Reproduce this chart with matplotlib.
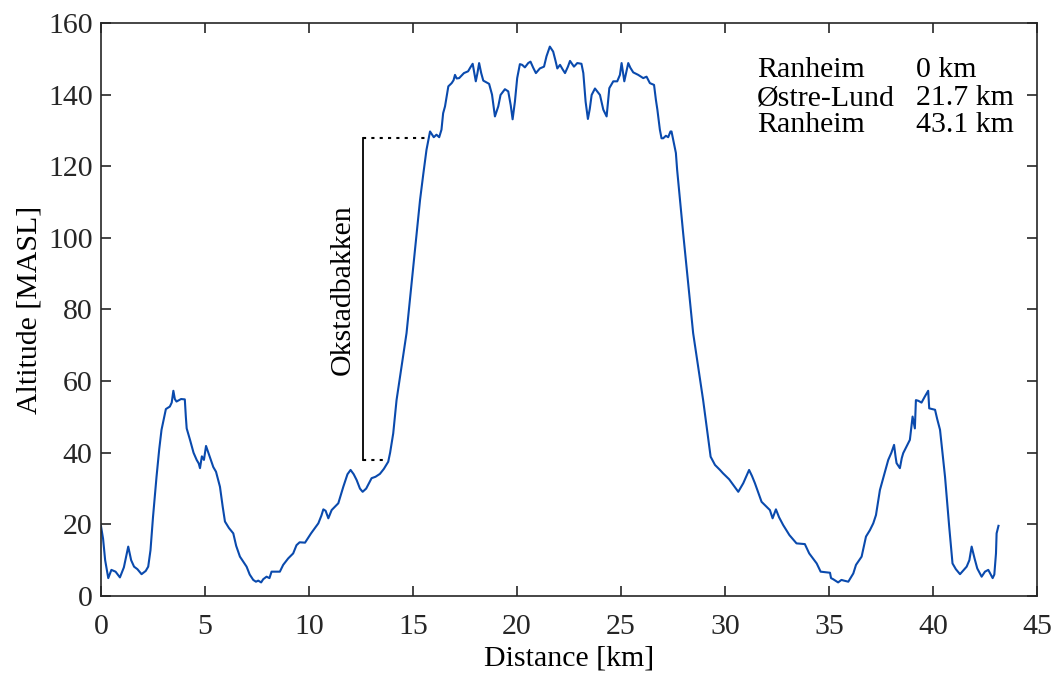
import matplotlib.pyplot as plt

# Elevation profile
distance_km = [
    0.0, 0.1, 0.2, 0.35, 0.5, 0.7, 0.91, 1.1, 1.31, 1.45, 1.59, 1.75, 1.95, 2.15,
    2.27, 2.38, 2.5, 2.67, 2.8, 2.91, 3.12, 3.31, 3.4, 3.48, 3.55, 3.63, 3.85, 4.03,
    4.08, 4.12, 4.28, 4.45, 4.6, 4.7, 4.76, 4.85, 4.95, 5.05, 5.24, 5.4, 5.53, 5.72,
    5.85, 5.96, 6.15, 6.36, 6.5, 6.68, 7.0, 7.15, 7.32, 7.45, 7.56, 7.7, 7.8, 7.96,
    8.1, 8.2, 8.6, 8.76, 9.0, 9.24, 9.4, 9.55, 9.81, 10.1, 10.45, 10.6, 10.69, 10.8,
    10.93, 11.09, 11.41, 11.65, 11.85, 12.0, 12.15, 12.29, 12.45, 12.58, 12.75, 13.01,
    13.2, 13.41, 13.6, 13.81, 13.9, 14.05, 14.21, 14.45, 14.69, 15.0, 15.34, 15.5,
    15.65, 15.82, 15.9, 16.0, 16.13, 16.26, 16.37, 16.45, 16.54, 16.7, 16.86, 16.95,
    17.02, 17.1, 17.22, 17.45, 17.65, 17.75, 17.87, 17.95, 18.02, 18.1, 18.18, 18.28,
    18.38, 18.5, 18.66, 18.8, 18.94, 19.1, 19.21, 19.42, 19.58, 19.7, 19.79, 19.9,
    20.01, 20.14, 20.25, 20.38, 20.54, 20.65, 20.78, 20.91, 21.1, 21.3, 21.42, 21.58,
    21.74, 21.85, 21.94, 22.07, 22.2, 22.31, 22.45, 22.55, 22.74, 22.9, 23.1, 23.19,
    23.3, 23.41, 23.5, 23.59, 23.75, 23.99, 24.15, 24.31, 24.44, 24.63, 24.82, 24.95,
    25.03, 25.1, 25.16, 25.35, 25.45, 25.59, 25.83, 26.07, 26.23, 26.39, 26.59, 26.68,
    26.75, 26.87, 26.95, 27.03, 27.16, 27.27, 27.38, 27.43, 27.64, 27.7, 27.99, 28.47,
    28.95, 29.31, 29.52, 29.76, 29.9, 30.2, 30.4, 30.64, 30.88, 31.16, 31.3, 31.44,
    31.76, 32.16, 32.29, 32.45, 32.6, 32.8, 33.1, 33.44, 33.84, 34.05, 34.41, 34.6,
    35.05, 35.1, 35.2, 35.44, 35.6, 35.72, 35.93, 36.17, 36.3, 36.57, 36.78, 36.97,
    37.13, 37.26, 37.45, 37.69, 37.85, 38.0, 38.13, 38.2, 38.25, 38.41, 38.5, 38.57,
    38.75, 38.89, 39.02, 39.13, 39.18, 39.3, 39.45, 39.61, 39.77, 39.82, 40.1, 40.2,
    40.34, 40.58, 40.78, 40.94, 41.1, 41.3, 41.62, 41.75, 41.86, 42.0, 42.13, 42.34,
    42.5, 42.66, 42.87, 42.95, 43.03, 43.06, 43.15,
]
altitude_m = [
    19.5, 16, 10, 5, 7.3, 6.8, 5.2, 8, 13.8, 10, 8.2, 7.5, 6.1, 7,
    8.2, 12.8, 22, 33.3, 41, 46.4, 52.2, 52.9, 54, 57.3, 55, 54.3, 55, 54.9,
    50, 46.8, 43.6, 40, 38, 37, 35.7, 39, 38, 41.9, 38.7, 36, 34.7, 30.5,
    25, 20.8, 19, 17.5, 14, 11, 8.2, 6, 4.5, 4, 4.3, 3.8, 4.7, 5.4,
    5, 6.8, 6.8, 8.7, 10.5, 11.9, 14.2, 15, 14.9, 17.5, 20.3, 22.5, 24.2, 23.8,
    21.7, 24, 25.9, 30.5, 34, 35.2, 34, 32.4, 30, 29.1, 30, 32.9,
    33.3, 34.1, 35.5, 37.5, 40, 45.4, 54.7, 64, 73.4, 91, 110.6, 118,
    124.6, 129.7, 129, 128.1, 128.8, 128.1, 130.2, 134.8, 136.7, 142.3, 143.2, 144,
    145.5, 144.5, 144.6, 146, 146.5, 147.5, 148.6, 146, 143.7, 146, 148.8, 146,
    143.9, 143.5, 143, 140, 133.9, 136.7, 139.9, 141.5, 140.9, 137, 133.1, 138,
    144.6, 148.5, 148.3, 147.6, 148.8, 149.2, 147.5, 146, 147.3, 147.8, 150.7, 153.4,
    152, 149.5, 147.3, 148.3, 147, 146, 147.8, 149.4, 147.8, 148.8, 148.6, 146,
    138, 133.2, 136, 139.9, 141.7, 139.9, 135.8, 133.9, 141.8, 143.7, 143.7, 145.5,
    148.8, 146, 143.7, 148.8, 147.5, 146.2, 145.5, 144.6, 145, 143.2, 142.7, 138.5,
    135.8, 130.2, 127.8, 127.8, 128.5, 128.1, 129.7, 129.7, 123.7, 119, 101.3, 73.4,
    54.7, 38.9, 36.6, 35.2, 34.3, 32.6, 31, 29.1, 31.5, 35.2, 33.5, 31.5,
    26.3, 24, 21.7, 24.2, 22, 19.8, 17, 14.7, 14.5, 11.9, 9.1, 6.8,
    6.5, 5, 4.7, 3.8, 4.5, 4.3, 4, 6.3, 8.7, 11, 16.6, 18.4,
    20.3, 22.6, 29.6, 34.7, 38, 40, 42.2, 39, 37.1, 35.7, 38.5, 39.9,
    42, 43.6, 50.1, 46.8, 54.7, 54.5, 54, 55.7, 57.3, 52.4, 52, 49.5,
    46.4, 33.3, 19.4, 9.1, 7.5, 6.1, 8.2, 10, 13.8, 10.5, 7.7, 5.4,
    6.8, 7.3, 5, 6, 11.9, 17.5, 19.6,
]

# Okstadbakken climb marker
climb_x = 12.58
climb_bottom = 38.1
climb_top = 127.8
climb_bottom_end = 13.8
climb_top_end = 15.6

# Waypoint table
stops = ["Ranheim", "Østre-Lund", "Ranheim"]
stop_km = ["0 km", "21.7 km", "43.1 km"]


def main():
    plt.rcParams["font.family"] = ["Liberation Serif", "DejaVu Serif"]
    plt.rcParams["font.size"] = 21.5

    fig = plt.figure(figsize=(10.52, 6.75), dpi=100)
    ax = fig.add_axes([0.096, 0.117, 0.8897, 0.849])

    ax.plot(distance_km, altitude_m, color="#0a4aad", linewidth=1.5)

    # Climb annotation
    ax.plot([climb_x, climb_x], [climb_bottom, climb_top], color="black", linewidth=1.3)
    ax.plot([climb_x, climb_top_end], [climb_top, climb_top], color="black",
            linewidth=1.5, linestyle=(0, (1.5, 2.5)))
    ax.plot([climb_x, climb_bottom_end], [climb_bottom, climb_bottom], color="black",
            linewidth=1.5, linestyle=(0, (1.5, 2.5)))
    ax.text(11.63, 85.5, "Okstadbakken", rotation=90, ha="center", va="center")

    # Waypoint table
    rows_y = [146.9, 139.0, 131.4]
    for name, km, y in zip(stops, stop_km, rows_y):
        ax.text(31.55, y, name, ha="left", va="center")
        ax.text(39.2, y, km, ha="left", va="center")

    ax.set_xlim(0, 45)
    ax.set_ylim(0, 160)
    ax.set_xticks(range(0, 46, 5))
    ax.set_yticks(range(0, 161, 20))
    ax.set_xlabel("Distance [km]", labelpad=4)
    ax.set_ylabel("Altitude [MASL]", labelpad=4)

    for spine in ax.spines.values():
        spine.set_color("#262626")
        spine.set_linewidth(1.2)
    ax.tick_params(direction="in", length=7, width=1.2, color="#262626",
                   top=True, right=True, labelcolor="#262626")
    ax.tick_params(axis="x", pad=13)
    ax.tick_params(axis="y", pad=6)

    fig.savefig("out.png", dpi=100)


if __name__ == "__main__":
    main()
